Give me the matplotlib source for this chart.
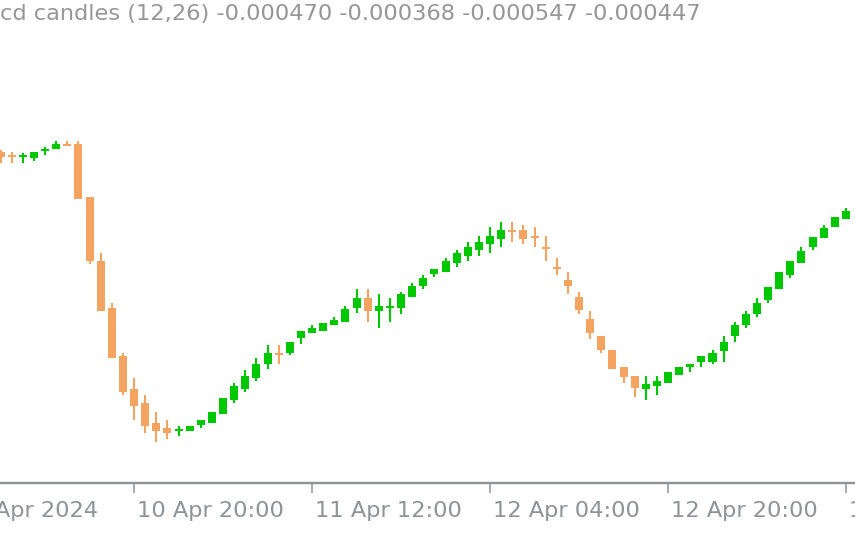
import numpy as np
import pandas as pd
import matplotlib
matplotlib.use('Agg')
import matplotlib.pyplot as plt
import matplotlib.transforms as mtransforms

# MACD candles, H1 bars, values in units of 1e-5
opens = [148, 144, 143, 142, 149, 151, 156, 156, 103, 39, -8, -56, -89, -103, -123, -128,
         -131, -131, -125, -123, -114, -100, -89, -78, -64, -53, -53, -38, -33, -31, -25, -22,
         -8, 2, -11, -8, -8, 3, 14, 26, 28, 37, 44, 50, 56, 61, 70, 70,
         64, 53, 33, 20, 3, -19, -36, -50, -67, -76, -89, -86, -83, -75, -67, -62,
         -62, -51, -36, -25, -14, 0, 11, 25, 37, 53, 62, 73, 81]
highs = [150, 148, 147, 148, 153, 159, 159, 159, 103, 47, -3, -53, -78, -95, -112, -120,
         -126, -126, -120, -112, -98, -83, -70, -58, -45, -45, -42, -31, -25, -23, -17, -6,
         11, 11, 6, 2, 8, 17, 25, 31, 42, 50, 58, 64, 73, 78, 78, 75,
         73, 64, 42, 28, 8, -11, -36, -50, -67, -76, -76, -76, -72, -67, -64, -56,
         -50, -36, -22, -11, 2, 13, 28, 39, 53, 63, 75, 83, 92]
lows = [137, 137, 137, 139, 145, 151, 154, 101, 36, -11, -58, -95, -120, -133, -142, -139,
        -136, -131, -128, -123, -114, -103, -92, -81, -69, -64, -55, -44, -33, -31, -25, -22,
        -13, -22, -28, -22, -14, 3, 11, 23, 28, 33, 39, 44, 47, 53, 58, 56,
        53, 39, 25, 6, -14, -39, -53, -69, -83, -97, -100, -95, -83, -75, -72, -67,
        -64, -62, -42, -28, -17, -3, 11, 22, 37, 50, 62, 73, 81]
closes = [143, 143, 144, 148, 150, 156, 154, 101, 39, -11, -58, -92, -106, -126, -131, -133,
          -129, -126, -120, -112, -98, -86, -76, -64, -53, -55, -42, -31, -28, -23, -20, -9,
          2, -11, -6, -6, 6, 14, 22, 31, 39, 47, 53, 58, 64, 70, 68, 61,
          62, 51, 31, 14, -10, -33, -50, -69, -77, -88, -84, -81, -72, -67, -64, -56,
          -53, -42, -25, -14, -3, 13, 28, 39, 49, 63, 72, 83, 89]

title_text = 'cd candles (12,26) -0.000470 -0.000368 -0.000547 -0.000447'
start_time = '2024-04-10 08:00'

o = np.array(opens) * 1e-5
h = np.array(highs) * 1e-5
l = np.array(lows) * 1e-5
c = np.array(closes) * 1e-5
times = pd.date_range(start_time, periods=len(o), freq='h')
idx = np.arange(len(o))

up_color = '#00c800'
down_color = '#f4a460'
grid_color = '#8c9399'
font = ['Liberation Sans Narrow', 'DejaVu Sans']

fig = plt.figure(figsize=(8.55, 5.34), dpi=100)
ax = fig.add_axes([0, 51 / 534, 1, 483 / 534])

colors = np.where(c >= o, up_color, down_color)
body_lo = np.minimum(o, c)
body_h = np.maximum(np.abs(c - o), 2e-5)
ax.vlines(idx, l, h, colors=colors, linewidth=1.5)
ax.bar(idx, body_h, bottom=body_lo, width=0.72, color=colors, linewidth=0)

ax.set_ylim(-183e-5, 300e-5)

for side in ['top', 'left', 'right']:
    ax.spines[side].set_visible(False)
ax.spines['bottom'].set_color(grid_color)
ax.spines['bottom'].set_linewidth(1.7)
ax.set_yticks([])

# time ticks every 16 hours
tick_times = pd.date_range('2024-04-10 04:00', '2024-04-13 12:00', freq='16h')
tick_pos = (tick_times - times[0]) / pd.Timedelta(hours=1)
ax.set_xticks(tick_pos)
ax.set_xticklabels([])
ax.tick_params(axis='x', direction='out', length=7.5, width=1.1, color=grid_color)
ax.set_xlim(-0.05, 76.81)

lbl_trans = mtransforms.offset_copy(
    mtransforms.blended_transform_factory(ax.transData, fig.transFigure),
    fig=fig, x=3, y=0, units='dots')
for i, t in enumerate(tick_times):
    txt = t.strftime('%d %b %Y') if i == 0 else t.strftime('%d %b %H:%M')
    ax.text(tick_pos[i], 1 - 517 / 534, txt, transform=lbl_trans, ha='left',
            va='baseline', fontsize=16.2, color=grid_color, family=font, clip_on=False)

fig.text(0.0, 1 - 20 / 534, title_text, ha='left', va='baseline', fontsize=16.2,
         color='#969696', family=font)

fig.savefig('out.png', dpi=100)
